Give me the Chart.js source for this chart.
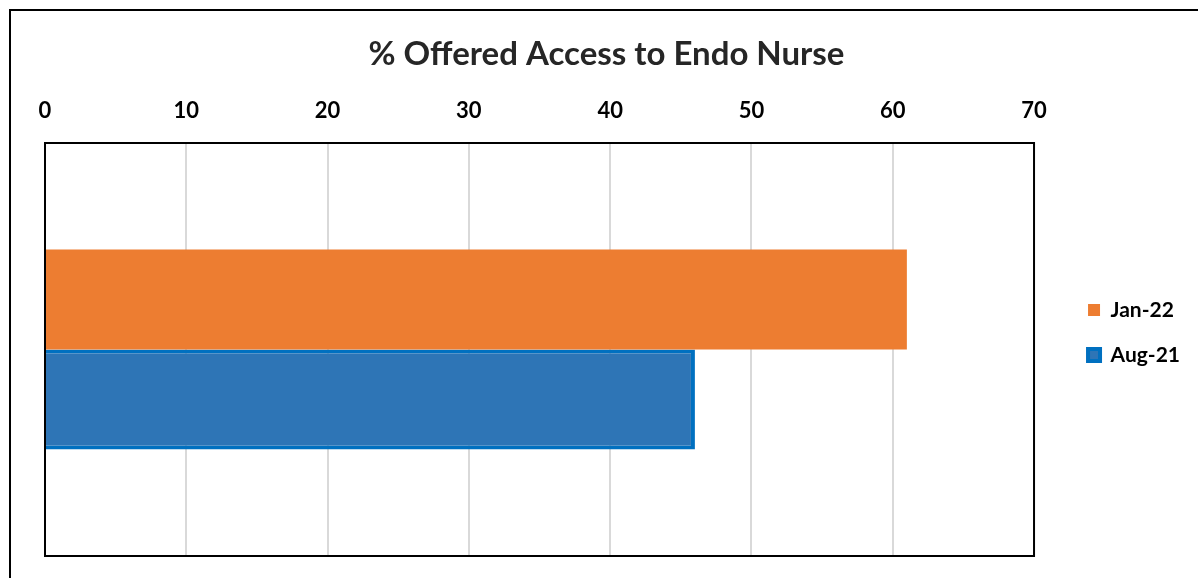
<!DOCTYPE html>
<html>
<head>
<meta charset="utf-8">
<script src="https://cdn.jsdelivr.net/npm/chart.js@4"></script>
<style>
  html, body { margin: 0; padding: 0; background: #fff; overflow: hidden; }
  #frame {
    position: absolute; left: 9px; top: 9px; width: 1400px; height: 800px;
    border-left: 2px solid #000; border-top: 2px solid #000;
  }
  #wrap { position: absolute; left: 0; top: 0; width: 1198px; height: 578px; }
</style>
</head>
<body>
<div id="frame"></div>
<div id="wrap"><canvas id="myChart"></canvas></div>
<script>
var categories = [""];
var seriesNames = ["Jan-22", "Aug-21"];
var janValues = [61];
var augValues = [46];
var xTicks = [0, 10, 20, 30, 40, 50, 60, 70];

// black box round the plot area
const plotBorder = {
  id: "plotBorder",
  afterDraw: function (chart) {
    const a = chart.chartArea;
    const ctx = chart.ctx;
    ctx.save();
    ctx.strokeStyle = "#000";
    ctx.lineWidth = 2;
    ctx.strokeRect(a.left, a.top, a.right - a.left, a.bottom - a.top);
    ctx.restore();
  },
};

const ctx = document.getElementById("myChart").getContext("2d");

const myChart = new Chart(ctx, {
  type: "bar",
  data: {
    labels: categories,
    datasets: [
      {
        label: seriesNames[0],
        data: janValues,
        backgroundColor: "#ED7D31",
        borderWidth: 0,
      },
      {
        label: seriesNames[1],
        data: augValues,
        backgroundColor: "#2E75B6",
        borderColor: "#0070C0",
        borderWidth: 4,
      },
    ],
  },
  options: {
    indexAxis: "y",
    responsive: true,
    maintainAspectRatio: false,
    animation: false,
    categoryPercentage: 0.484,
    barPercentage: 1,
    layout: {
      padding: { left: 23, right: 8, top: 0, bottom: 22 },
    },
    scales: {
      x: {
        position: "top",
        min: 0,
        max: 70,
        afterBuildTicks: function (scale) {
          scale.ticks = xTicks.map((v) => ({ value: v }));
        },
        ticks: {
          color: "#000",
          padding: 19,
          font: { family: "Lato", size: 22, weight: "bold" },
        },
        grid: { color: "#d9d9d9", lineWidth: 2, drawTicks: false },
        border: { display: false },
      },
      y: {
        position: "right",
        ticks: { display: false },
        grid: { display: false },
        border: { display: false },
        afterFit: function (scale) {
          scale.width = 30; // gap between plot and legend
        },
      },
      yLeft: {
        type: "linear",
        position: "left",
        ticks: { display: false },
        grid: { display: false },
        border: { display: false },
        afterFit: function (scale) {
          scale.width = 22; // keeps the title centred like the original
        },
      },
    },
    plugins: {
      title: {
        display: true,
        text: "% Offered Access to Endo Nurse",
        color: "#262626",
        font: { family: "Lato", size: 33, weight: "bold" },
        padding: { top: 35, bottom: 4 },
      },
      legend: {
        position: "right",
        title: {
          display: true,
          text: " ",
          font: { size: 10 },
          padding: { top: 97, bottom: 0 },
        },
        labels: {
          color: "#000",
          boxWidth: 12,
          boxHeight: 12,
          padding: 24,
          font: { family: "Lato", size: 21, weight: "bold" },
        },
      },
      tooltip: { enabled: false },
    },
  },
  plugins: [plotBorder],
});
</script>
</body>
</html>
